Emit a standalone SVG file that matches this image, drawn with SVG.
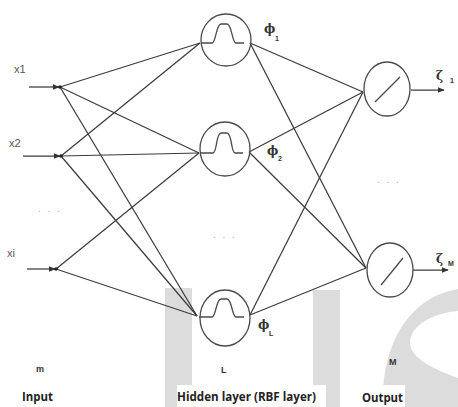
<svg xmlns="http://www.w3.org/2000/svg" width="458" height="407" viewBox="0 0 458 407">
<defs>
<style>
.wm{fill:#dcdcdc;stroke:none}
.e{stroke:#3c3c3c;stroke-width:1.25;fill:none}
.n{stroke:#4a4a4a;stroke-width:1.3;fill:none}
.lbl{font-family:"Liberation Sans",Arial,sans-serif;fill:#555;font-size:11px}
.dots{font-family:"Liberation Sans",Arial,sans-serif;fill:#aaa;font-size:10px;letter-spacing:2px}
.bold{font-family:"Open Sans","Liberation Sans",sans-serif;font-weight:bold;fill:#222;font-size:12px}
.sym{font-family:"DejaVu Serif","Liberation Serif",serif;fill:#333;font-size:12px;font-weight:bold}
.sub{font-family:"Liberation Sans",Arial,sans-serif;fill:#333;font-size:7px;font-weight:bold}
.lay{font-family:"Liberation Sans",Arial,sans-serif;fill:#333;font-size:9px;font-weight:bold}
</style>
<marker id="ah" viewBox="0 0 10 10" refX="9" refY="5" markerWidth="7" markerHeight="7" markerUnits="userSpaceOnUse" orient="auto">
<path d="M0,1 L10,5 L0,9 Z" fill="#333"/>
</marker>
</defs>
<rect width="458" height="407" fill="#fff"/>
<g id="watermark">
<rect class="wm" x="165" y="288" width="27" height="119"/>
<rect class="wm" x="313" y="290" width="27" height="117"/>
<path class="wm" d="M383,407 C381,350 405,298 458,289 L458,311 C432,313 410,326 410,343 C410,358 435,370 458,378 L458,407 Z"/>
<rect x="177" y="385" width="149" height="22" fill="#fff"/>
<rect x="359" y="385" width="46" height="22" fill="#fff"/>
</g>
<g id="connectors">
<line class="e" x1="29" y1="87" x2="59" y2="87" marker-end="url(#ah)"/>
<line class="e" x1="23" y1="156" x2="60" y2="156" marker-end="url(#ah)"/>
<line class="e" x1="27" y1="269" x2="55" y2="269" marker-end="url(#ah)"/>
<line class="e" x1="60" y1="87" x2="200" y2="43"/>
<line class="e" x1="60" y1="87" x2="199" y2="153"/>
<line class="e" x1="60" y1="87" x2="197" y2="316"/>
<line class="e" x1="61" y1="156" x2="200" y2="43"/>
<line class="e" x1="61" y1="156" x2="199" y2="153" stroke-width="1.6"/>
<line class="e" x1="61" y1="156" x2="197" y2="316"/>
<line class="e" x1="56" y1="269" x2="199" y2="153"/>
<line class="e" x1="56" y1="269" x2="197" y2="316"/>
<line class="e" x1="250" y1="43" x2="363" y2="92"/>
<line class="e" x1="250" y1="43" x2="366" y2="268"/>
<line class="e" x1="249" y1="152" x2="363" y2="92"/>
<line class="e" x1="249" y1="152" x2="366" y2="268"/>
<line class="e" x1="250" y1="315" x2="363" y2="92"/>
<line class="e" x1="250" y1="315" x2="366" y2="268"/>
<line class="e" x1="411" y1="90" x2="444" y2="90" marker-end="url(#ah)"/>
<line class="e" x1="413" y1="270" x2="448" y2="270" marker-end="url(#ah)"/>
</g>
<g id="input1"><circle cx="60" cy="87" r="1.8" fill="#222"/><text class="lbl" x="14" y="73">x1</text></g>
<g id="input2"><circle cx="61" cy="156" r="1.8" fill="#222"/><text class="lbl" x="9" y="147">x2</text></g>
<g id="inputi"><circle cx="56" cy="269" r="1.8" fill="#222"/><text class="lbl" x="7" y="257">xi</text></g>
<text class="dots" x="38" y="212">. . .</text>
<g id="hidden1">
<ellipse class="n" cx="226" cy="40" rx="25" ry="26"/>
<path class="n" d="M201,43 L212,43 C216,43 216,24 221,24 L227,24 C232,24 232,43 236,43 L244,43"/>
<text class="sym" x="264" y="33">ϕ</text><text class="sub" x="275" y="41">1</text>
</g>
<g id="hidden2">
<ellipse class="n" cx="225" cy="149" rx="25" ry="27"/>
<path class="n" d="M200,153 L213,153 C217,153 216,133 221,133 L227,133 C232,133 231,153 235,153 L243,153"/>
<text class="sym" x="267" y="155">ϕ</text><text class="sub" x="278" y="161">2</text>
</g>
<text class="dots" x="213" y="238">. . .</text>
<g id="hidden3">
<ellipse class="n" cx="225" cy="318" rx="25" ry="28"/>
<path class="n" d="M199,317 L212,317 C216,317 216,299 221,299 L227,299 C232,299 232,317 236,317 L244,317"/>
<text class="sym" x="258" y="329">ϕ</text><text class="sub" x="269" y="336">L</text>
</g>
<g id="output1">
<ellipse class="n" cx="387" cy="89" rx="23" ry="27"/>
<line class="n" x1="375" y1="102" x2="400" y2="77"/>
<text class="sym" x="436" y="80">ζ</text><text class="sub" x="450" y="83">1</text>
</g>
<text class="dots" x="377" y="183">. . .</text>
<g id="output2">
<ellipse class="n" cx="390" cy="270" rx="23" ry="27"/>
<line class="n" x1="381" y1="285" x2="403" y2="258"/>
<text class="sym" x="436" y="263">ζ</text><text class="sub" x="448" y="266" font-size="6">M</text>
</g>
<g id="labels">
<text class="lay" x="36" y="372">m</text>
<text class="lay" x="221" y="373">L</text>
<text class="lay" x="389" y="365">M</text>
<text class="bold" x="22" y="401" textLength="31" lengthAdjust="spacingAndGlyphs">Input</text>
<text class="bold" x="177" y="401" textLength="139" lengthAdjust="spacingAndGlyphs">Hidden layer (RBF layer)</text>
<text class="bold" x="362" y="402" textLength="41" lengthAdjust="spacingAndGlyphs">Output</text>
</g>
</svg>
